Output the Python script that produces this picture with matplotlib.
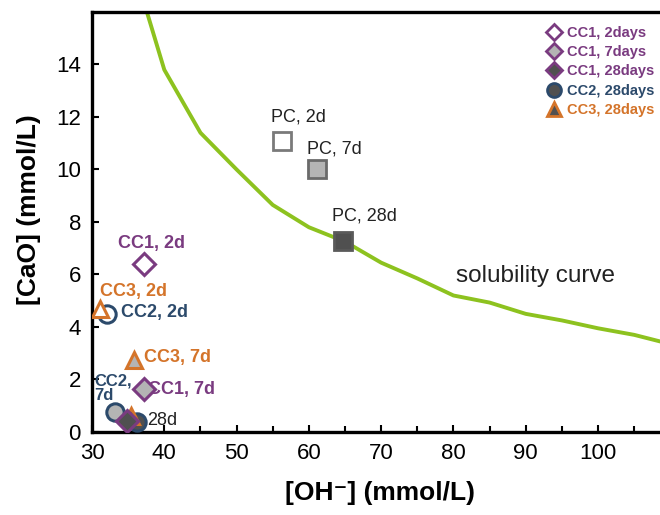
import numpy as np
import matplotlib.pyplot as plt
from matplotlib.lines import Line2D

plt.rcParams['font.family'] = ['Liberation Sans', 'DejaVu Sans']

# solubility curve (piecewise linear)
curve_oh = [36.5, 40, 45, 50, 55, 60, 65, 70, 75, 80, 85, 90, 95, 100, 105, 110]
curve_cao = [17.0, 13.8, 11.4, 10.0, 8.65, 7.8, 7.25, 6.45, 5.85, 5.2, 4.93, 4.5, 4.25, 3.95, 3.7, 3.35]

# samples
pc_oh = [56.3, 61.1, 64.7]
pc_cao = [11.1, 10.0, 7.28]
cc1_oh = [37.2, 37.2, 34.9]
cc1_cao = [6.4, 1.65, 0.42]
cc2_oh = [32.1, 33.2, 36.2]
cc2_cao = [4.5, 0.75, 0.38]
cc3_oh = [31.1, 35.8, 35.4]
cc3_cao = [4.7, 2.75, 0.62]

fills = ['white', '#b4b4b4', '#505050']
PURPLE = '#7a3b80'
NAVY = '#2c4a6b'
ORANGE = '#d4742a'
GREEN = '#8dc21f'

fig = plt.figure(figsize=(6.6, 5.15), dpi=100)
ax = fig.add_axes([0.1394, 0.1612, 0.873, 0.8155])

ax.plot(curve_oh, curve_cao, color=GREEN, lw=2.8, zorder=2)

pc_edges = ['#7a7a7a', '#6a6a6a', '#5a5a5a']
for i in range(3):
    ax.plot(pc_oh[i], pc_cao[i], 's', ms=13, mfc=fills[i], mec=pc_edges[i], mew=2.0, zorder=3)

# 28d first so they sit underneath
order = [2, 1, 0]
for i in order:
    ax.plot(cc2_oh[i], cc2_cao[i], 'o', ms=12.5, mfc=fills[i], mec=NAVY, mew=2.2, zorder=3)
for i in order:
    ax.plot(cc3_oh[i], cc3_cao[i], '^', ms=12, mfc=fills[i], mec=ORANGE, mew=2.2, zorder=4)
for i in order:
    ax.plot(cc1_oh[i], cc1_cao[i], 'D', ms=11, mfc=fills[i], mec=PURPLE, mew=2.2, zorder=4)

# annotations
ax.text(54.8, 11.99, 'PC, 2d', fontsize=13, color='#222222', va='center')
ax.text(59.7, 10.77, 'PC, 7d', fontsize=13, color='#222222', va='center')
ax.text(63.2, 8.23, 'PC, 28d', fontsize=13, color='#222222', va='center')
ax.text(33.6, 7.17, 'CC1, 2d', fontsize=13, color=PURPLE, weight='bold', va='center')
ax.text(31.1, 5.35, 'CC3, 2d', fontsize=13, color=ORANGE, weight='bold', va='center')
ax.text(34.0, 4.55, 'CC2, 2d', fontsize=13, color=NAVY, weight='bold', va='center')
ax.text(37.2, 2.85, 'CC3, 7d', fontsize=13, color=ORANGE, weight='bold', va='center')
ax.text(37.8, 1.63, 'CC1, 7d', fontsize=13, color=PURPLE, weight='bold', va='center')
ax.text(30.3, 1.67, 'CC2,\n7d', fontsize=12, color=NAVY, weight='bold', va='center',
        linespacing=1.0)
ax.text(37.6, 0.45, '28d', fontsize=13, color='#222222', va='center')
ax.text(80.3, 5.96, 'solubility curve', fontsize=17.5, color='#222222', va='center')

ax.set_xlim(30, 109.7)
ax.set_ylim(0, 16)
ax.set_xticks([30, 40, 50, 60, 70, 80, 90, 100])
ax.set_xticks(np.arange(35, 110, 10), minor=True)
ax.set_yticks(np.arange(0, 15, 2))
ax.tick_params(direction='in', labelsize=16, length=5, width=1.5, pad=8)
ax.tick_params(which='minor', direction='in', length=4, width=1.5)
for s in ax.spines.values():
    s.set_linewidth(2.4)

ax.set_xlabel('[OH\u207b] (mmol/L)', fontsize=19, weight='bold', labelpad=12)
ax.set_ylabel('[CaO] (mmol/L)', fontsize=19, weight='bold')
ax.yaxis.set_label_coords(-0.088, 0.53)

handles = [
    Line2D([], [], ls='none', marker='D', ms=8, mfc=fills[0], mec=PURPLE, mew=2.0),
    Line2D([], [], ls='none', marker='D', ms=8, mfc=fills[1], mec=PURPLE, mew=2.0),
    Line2D([], [], ls='none', marker='D', ms=8, mfc=fills[2], mec=PURPLE, mew=2.0),
    Line2D([], [], ls='none', marker='o', ms=10, mfc=fills[2], mec=NAVY, mew=2.0),
    Line2D([], [], ls='none', marker='^', ms=10, mfc=fills[2], mec=ORANGE, mew=2.0),
]
labels = ['CC1, 2days', 'CC1, 7days', 'CC1, 28days', 'CC2, 28days', 'CC3, 28days']
leg = ax.legend(handles, labels, loc='upper left', bbox_to_anchor=(547 / 660, 1 - 26 / 515),
                bbox_transform=fig.transFigure, frameon=False, handlelength=0.9,
                handletextpad=0.5, labelspacing=0.36, borderpad=0, borderaxespad=0,
                prop={'weight': 'bold', 'size': 10.5},
                labelcolor=[PURPLE, PURPLE, PURPLE, NAVY, ORANGE])

fig.savefig('out.png', dpi=100)
